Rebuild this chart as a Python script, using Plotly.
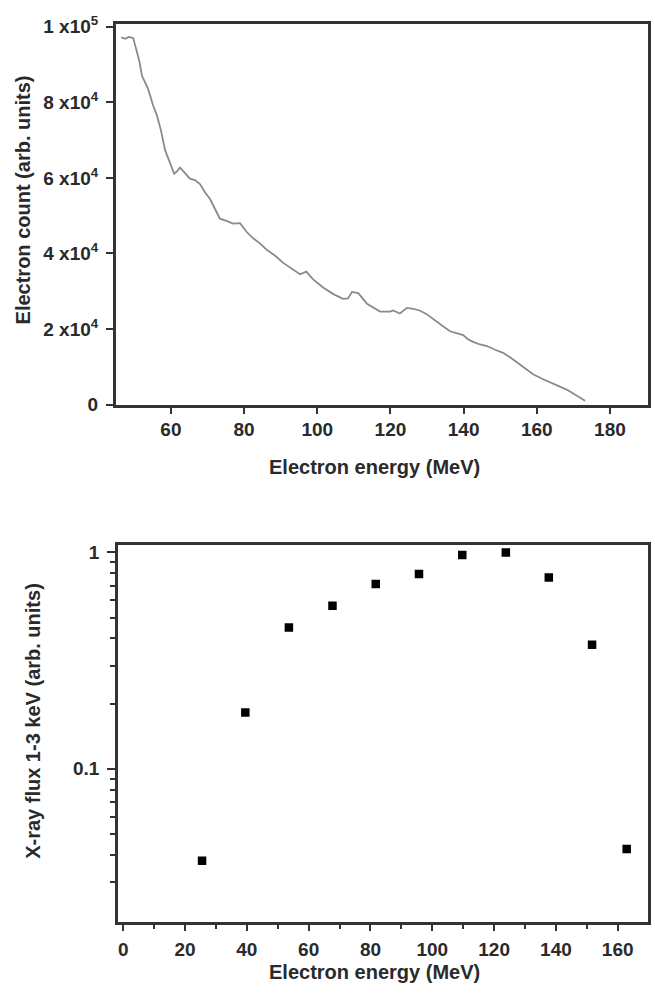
import plotly.graph_objects as go

# ---- Top panel: electron spectrum ----
energy_top = [46.4, 47.5, 48.5, 49.7, 50.2, 50.7, 51.4, 52.1, 52.9, 53.7, 54.4, 55.1, 56.2,
              57.3, 58.4, 59.1, 59.8, 60.9, 61.7, 62.5, 63.8, 65.2, 66.6, 68.0, 69.3,
              70.7, 72.0, 73.4, 75.2, 77.0, 78.9, 80.6, 82.5, 84.4, 86.3, 88.5, 90.7,
              93.0, 95.3, 97.0, 98.8, 101.6, 104.3, 107.0, 108.4, 109.5, 111.2, 113.6,
              115.5, 117.2, 119.9, 120.7, 122.6, 124.5, 126.3, 128.0, 129.8, 131.6,
              134.0, 136.3, 138.1, 139.9, 141.2, 142.6, 144.5, 146.4, 148.6, 150.8,
              152.7, 154.6, 156.8, 159.0, 161.3, 163.6, 166.0, 168.3, 170.7, 173.2]
count_top = [97200, 96800, 97300, 97000, 95200, 93500, 90800, 87000, 85200, 83700, 81600, 79300, 76500,
             72500, 67400, 65500, 63700, 61100, 61800, 62700, 61300, 59800, 59400, 58300, 56200,
             54400, 51900, 49200, 48600, 47900, 48000, 45800, 44000, 42600, 40900, 39400, 37500,
             36100, 34500, 35200, 33200, 31000, 29300, 28000, 28100, 29800, 29500, 26700,
             25600, 24600, 24600, 24900, 24100, 25600, 25300, 24900, 24000, 22800,
             21000, 19400, 18900, 18400, 17300, 16600, 15900, 15500, 14500, 13700,
             12500, 11100, 9600, 8000, 6900, 6000, 4900, 3900, 2500, 1000]

top_y_ticks = [0, 20000, 40000, 60000, 80000, 100000]
top_y_labels = ["0", "2 x10<sup>4</sup>", "4 x10<sup>4</sup>", "6 x10<sup>4</sup>",
                "8 x10<sup>4</sup>", "1 x10<sup>5</sup>"]
top_x_ticks = [60, 80, 100, 120, 140, 160, 180]

# ---- Bottom panel: X-ray flux ----
energy_bot = [25.5, 39.5, 53.6, 67.7, 81.7, 95.7, 109.7, 123.8, 137.7, 151.7, 162.9]
flux_bot = [0.0376, 0.182, 0.45, 0.566, 0.714, 0.795, 0.973, 1.0, 0.765, 0.374, 0.0426]

bot_x_ticks = [0, 20, 40, 60, 80, 100, 120, 140, 160]
bot_x_minor = [10, 30, 50, 70, 90, 110, 130, 150, 170]
bot_y_ticks = [0.1, 1]
bot_y_minor = [0.03, 0.04, 0.05, 0.06, 0.07, 0.08, 0.09,
               0.2, 0.3, 0.4, 0.5, 0.6, 0.7, 0.8, 0.9]

W, H = 655, 1005
FONT = "Liberation Sans"
TXT = "#2a2a2a"
AX = "#333333"

fig = go.Figure()
fig.add_trace(go.Scatter(x=energy_top, y=count_top, mode="lines",
                         line=dict(color="#8a8a8a", width=1.8),
                         xaxis="x", yaxis="y", showlegend=False))
fig.add_trace(go.Scatter(x=energy_bot, y=flux_bot, mode="markers",
                         marker=dict(symbol="square", size=8.5, color="#000000"),
                         xaxis="x2", yaxis="y2", showlegend=False))

tickfont = dict(family=FONT, size=19, color=TXT, weight="bold")

fig.update_layout(
    width=W, height=H,
    margin=dict(l=0, r=0, t=0, b=0),
    paper_bgcolor="white", plot_bgcolor="white",
    xaxis=dict(domain=[116 / W, 648 / W], anchor="y", range=[45, 190.4],
               tickvals=top_x_ticks, ticks="outside", ticklen=6, tickwidth=2,
               tickcolor=AX, showline=True, linecolor=AX, linewidth=3, mirror=True,
               showgrid=False, zeroline=False, tickfont=tickfont,
               ticklabelstandoff=0),
    yaxis=dict(domain=[1 - 403 / H, 1 - 14 / H], anchor="x", range=[0, 100800],
               tickvals=top_y_ticks, ticktext=top_y_labels, ticks="outside",
               ticklen=7, tickwidth=2, tickcolor=AX, showline=True, linecolor=AX,
               linewidth=3, mirror=True, showgrid=False, zeroline=False,
               tickfont=tickfont, ticklabelstandoff=4),
    xaxis2=dict(domain=[118 / W, 648 / W], anchor="y2", range=[-1.7, 169.8],
                tickvals=bot_x_ticks, ticks="outside", ticklen=7, tickwidth=2,
                tickcolor=AX, showline=True, linecolor=AX, linewidth=2.5, mirror=True,
                showgrid=False, zeroline=False, tickfont=tickfont,
                minor=dict(tickvals=bot_x_minor, ticks="outside", ticklen=5,
                           tickwidth=2, tickcolor=AX, showgrid=False),
                ticklabelstandoff=2),
    yaxis2=dict(domain=[1 - 931 / H, 1 - 546 / H], anchor="x2", type="log",
                range=[-1.706, 0.036], tickvals=bot_y_ticks, ticktext=["0.1", "1"],
                ticks="outside", ticklen=8, tickwidth=2, tickcolor=AX,
                showline=True, linecolor=AX, linewidth=2.5, mirror=True,
                showgrid=False, zeroline=False, tickfont=tickfont,
                minor=dict(tickvals=bot_y_minor, ticks="outside", ticklen=5,
                           tickwidth=2, tickcolor=AX, showgrid=False),
                ticklabelstandoff=4),
)

titlefont = dict(family=FONT, size=20, color=TXT, weight="bold")
annots = [
    dict(text="Electron count (arb. units)", x=22.5 / W, y=1 - 194 / H, textangle=-90),
    dict(text="Electron energy (MeV)", x=374.5 / W, y=1 - 467 / H, textangle=0),
    dict(text="X-ray flux 1-3 keV (arb. units)", x=33 / W, y=1 - 726 / H, textangle=-90),
    dict(text="Electron energy (MeV)", x=374.5 / W, y=1 - 983 / H, textangle=0),
]
for a in annots:
    fig.add_annotation(xref="paper", yref="paper", showarrow=False,
                       xanchor="center", yanchor="middle", font=titlefont, **a)

fig.write_html("out.html")
